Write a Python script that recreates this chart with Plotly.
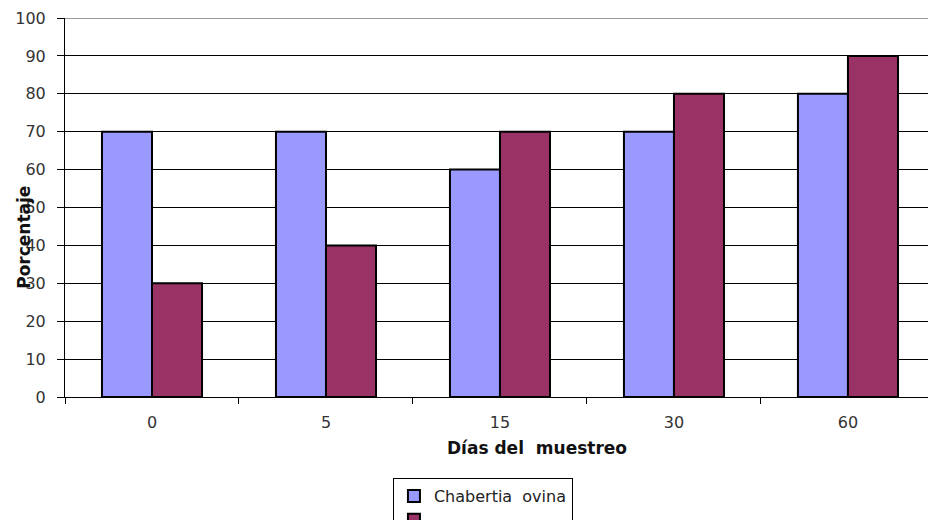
import plotly.graph_objects as go

# Sampling days and percentages per group
dias = ["0", "5", "15", "30", "60"]
chabertia = [70, 70, 60, 70, 80]
segunda_serie = [30, 40, 70, 80, 90]
y_ticks = [0, 10, 20, 30, 40, 50, 60, 70, 80, 90, 100]

FONT = "DejaVu Sans, Liberation Sans, Arial, sans-serif"

fig = go.Figure()
fig.add_trace(go.Bar(
    x=dias, y=chabertia, name="Chabertia  ovina",
    marker=dict(color="#9999FF", line=dict(color="black", width=2)),
))
fig.add_trace(go.Bar(
    x=dias, y=segunda_serie, name=" ",
    marker=dict(color="#993366", line=dict(color="black", width=2)),
))

fig.update_layout(
    width=928, height=520,
    margin=dict(l=65, r=0, t=18, b=123),
    paper_bgcolor="white", plot_bgcolor="white",
    barmode="group", bargap=0.425, bargroupgap=0,
    font=dict(family=FONT, size=16, color="#333333"),
    showlegend=True,
    legend=dict(
        xref="paper", yref="container",
        x=0.38, y=1 - 478 / 520, xanchor="left", yanchor="top",
        bordercolor="black", borderwidth=1, bgcolor="white",
        font=dict(size=16, color="#222222"),
        tracegroupgap=0,
    ),
    xaxis=dict(
        type="category", range=[-0.5, 4.46],
        showline=True, linecolor="black", linewidth=1,
        ticks="outside", ticklen=6, tickcolor="black",
        tickson="boundaries", showgrid=False,
        tickfont=dict(size=16), ticklabelstandoff=11,
    ),
    yaxis=dict(
        range=[0, 100], tickvals=y_ticks,
        showline=True, linecolor="black", linewidth=1,
        ticks="outside", ticklen=7, tickcolor="black",
        showgrid=True, gridcolor="black", gridwidth=1,
        tickfont=dict(size=16), ticklabelstandoff=8,
        zeroline=False,
    ),
    annotations=[
        dict(
            text="<b>Porcentaje</b>", textangle=-90,
            xref="paper", yref="paper", x=-0.0475, y=0.42,
            xanchor="center", yanchor="middle",
            showarrow=False, font=dict(size=17, color="#111111"),
        ),
        dict(
            text="<b>Días del  muestreo</b>",
            xref="paper", yref="paper", x=0.547, y=-0.1346,
            xanchor="center", yanchor="middle",
            showarrow=False, font=dict(size=17, color="#111111"),
        ),
    ],
    shapes=[dict(
        type="line", xref="paper", yref="y", x0=0, x1=1, y0=100, y1=100,
        line=dict(color="#999999", width=2),
    )],
)

fig.write_html("out.html")
